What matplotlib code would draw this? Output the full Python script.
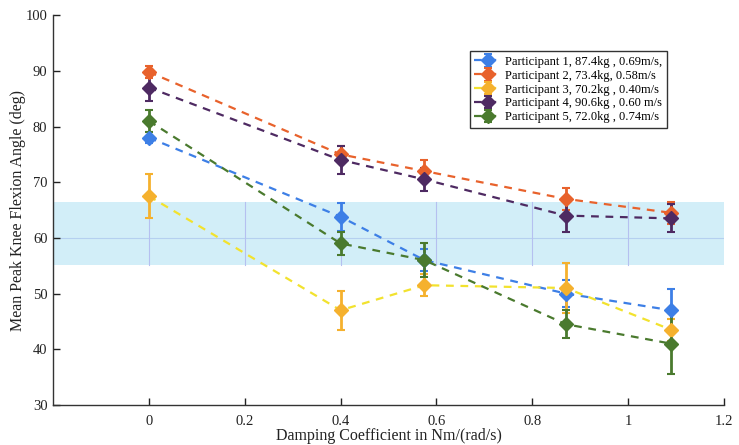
import matplotlib
matplotlib.use('Agg')
import matplotlib.pyplot as plt
import numpy as np

plt.rcParams['font.family'] = ['Liberation Serif', 'DejaVu Serif']

# damping settings (x) and per-participant means / std
damping = [0, 0.4, 0.575, 0.87, 1.09]

labels = ['Participant 1, 87.4kg , 0.69m/s,',
          'Participant 2, 73.4kg, 0.58m/s',
          'Participant 3, 70.2kg , 0.40m/s',
          'Participant 4, 90.6kg , 0.60 m/s',
          'Participant 5, 72.0kg , 0.74m/s']

p1_mean = [78.0, 63.8, 56.0, 50.0, 47.0]
p1_err = [1.0, 2.5, 2.0, 2.5, 3.8]
p2_mean = [89.8, 75.0, 72.0, 67.0, 64.5]
p2_err = [1.0, 1.5, 2.0, 2.0, 2.0]
p3_mean = [67.5, 47.0, 51.5, 51.0, 43.5]
p3_err = [4.0, 3.5, 2.0, 4.5, 2.0]
p4_mean = [87.0, 74.0, 70.5, 64.0, 63.5]
p4_err = [2.5, 2.5, 2.0, 3.0, 2.5]
p5_mean = [81.0, 59.0, 56.0, 44.5, 41.0]
p5_err = [2.0, 2.0, 3.0, 2.5, 5.5]

means = [p1_mean, p2_mean, p3_mean, p4_mean, p5_mean]
errs = [p1_err, p2_err, p3_err, p4_err, p5_err]
line_colors = ['#3d7fe6', '#e8622c', '#f2e22e', '#4e2a62', '#4a7a2e']
face_colors = ['#3d7fe6', '#e8622c', '#f5b12e', '#4e2a62', '#4a7a2e']

# normal range band
band_low, band_high, band_mid = 55.2, 66.5, 60

fig = plt.figure(figsize=(7.39, 4.45), dpi=100)
ax = fig.add_axes([0.0717, 0.09, 0.908, 0.876])

ax.axhspan(band_low, band_high, color='#d2eef8', lw=0, zorder=0)
ax.axhline(band_mid, color='#b5d0f0', lw=0.8, zorder=0.5)
for gx in [0, 0.2, 0.4, 0.6, 0.8, 1.0]:
    ax.plot([gx, gx], [band_low, band_high], color='#b5c0f0', lw=0.8, zorder=0.5)

for m, e, lc, fc, lab in zip(means, errs, line_colors, face_colors, labels):
    ax.errorbar(damping, m, yerr=e, color=lc, ls='--', lw=1.6, dashes=(3.5, 3),
                marker='D', ms=7, mfc=fc, mec=fc, ecolor=fc, elinewidth=2,
                capsize=3, capthick=1.5, label=lab, zorder=3)

ax.set_xlim(-0.2, 1.2)
ax.set_ylim(30, 100)
ax.set_xticks([0, 0.2, 0.4, 0.6, 0.8, 1, 1.2])
ax.set_xticklabels(['0', '0.2', '0.4', '0.6', '0.8', '1', '1.2'])
ax.set_yticks(range(30, 101, 10))
ax.tick_params(direction='in', length=5, width=1, labelsize=10.5, colors='#222222')
ax.tick_params(axis='x', pad=7)
ax.tick_params(axis='y', pad=4)

for s in ['top', 'right']:
    ax.spines[s].set_visible(False)
for s in ['left', 'bottom']:
    ax.spines[s].set_color('#333333')
    ax.spines[s].set_linewidth(1.0)

ax.set_xlabel('Damping Coefficient in Nm/(rad/s)', fontsize=11.5, color='#222222', labelpad=0)
ax.set_ylabel('Mean Peak Knee Flexion Angle (deg)', fontsize=11.5, color='#222222')
ax.yaxis.set_label_coords(-0.040, 0.5)

leg = ax.legend(loc='upper right', bbox_to_anchor=(0.924, 0.923), fontsize=9,
                fancybox=False, framealpha=1, edgecolor='#333333',
                handlelength=2.2, handletextpad=0.3, borderpad=0.35, labelspacing=0.15)
leg.get_frame().set_linewidth(1.0)

fig.savefig('out.png', dpi=100)
